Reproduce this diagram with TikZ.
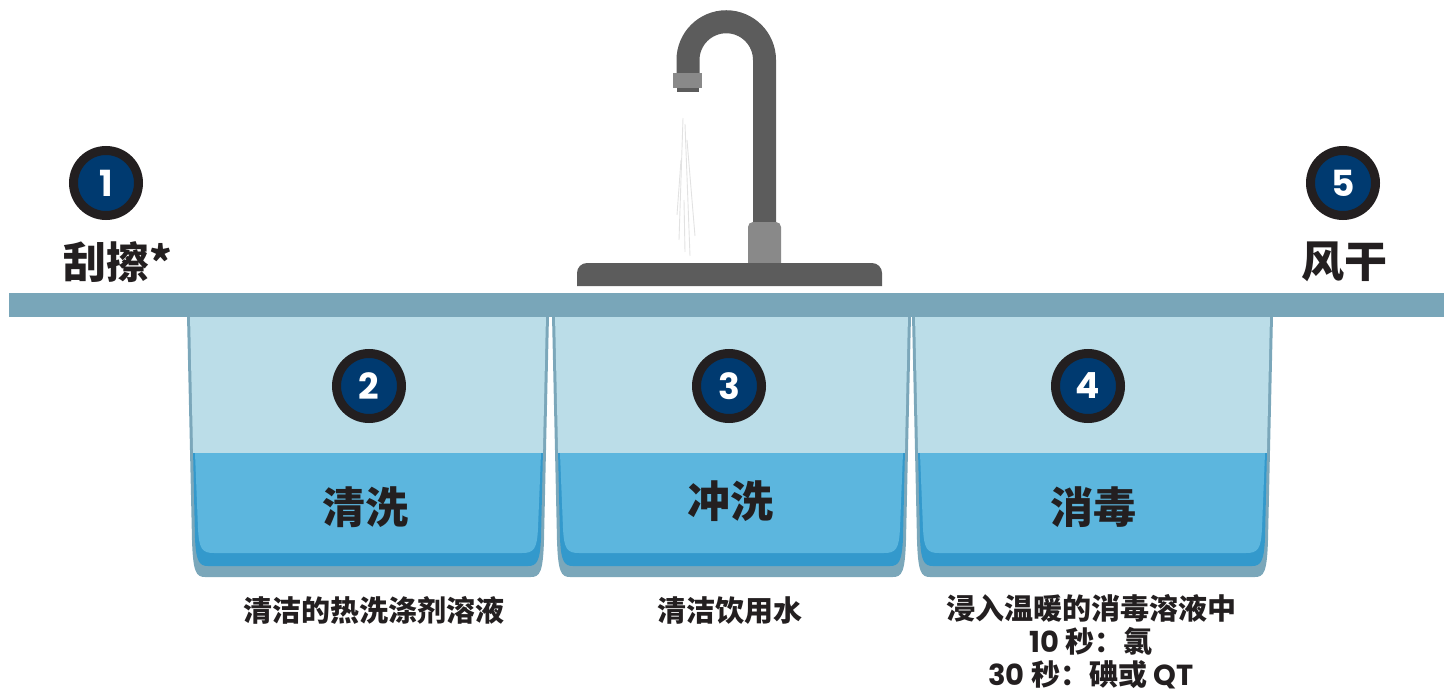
\documentclass[tikz,border=0pt]{standalone}
\usepackage{fontspec}
\newfontfamily\cjk{Noto Sans CJK SC}
\newfontfamily\lat{Poppins}
\definecolor{counter}{HTML}{79A6B9}
\definecolor{sinkrim}{HTML}{7BA7BA}
\definecolor{sinkin}{HTML}{BBDDE8}
\definecolor{waterdark}{HTML}{3399CC}
\definecolor{water}{HTML}{5CB6DE}
\definecolor{tapdark}{HTML}{5C5C5C}
\definecolor{taplight}{HTML}{898989}
\definecolor{ring}{HTML}{231F20}
\definecolor{navy}{HTML}{003A70}
\definecolor{ink}{HTML}{231F20}
\definecolor{stream}{HTML}{E2E2E2}

% one basin between left edge #1 and right edge #2
\newcommand\basin[2]{%
  \fill[sinkrim] (#1-1,315) -- ({#1+4},540) .. controls ({#1+5},572) and ({#1+8},577) .. ({#1+17},577)
     -- ({#2-17},577) .. controls ({#2-8},577) and ({#2-5},572) .. ({#2-4},540) -- (#2+1,315) -- cycle;
  \begin{scope}
    \clip ({#1+2},315) -- ({#1+7},538) .. controls ({#1+8},561) and ({#1+11},566) .. ({#1+20},566)
     -- ({#2-20},566) .. controls ({#2-11},566) and ({#2-8},561) .. ({#2-7},538) -- ({#2-2},315) -- cycle;
    \fill[waterdark] (#1,453) rectangle (#2,580);
    \fill[sinkin] (#1,310) rectangle (#2,453);
    \fill[water] ({#1+7},453) -- ({#1+10},528) .. controls ({#1+11},549) and ({#1+14},553) .. ({#1+26},553)
     -- ({#2-26},553) .. controls ({#2-14},553) and ({#2-11},549) .. ({#2-10},528) -- ({#2-7},453) -- cycle;
  \end{scope}
}

\tikzset{
  badge/.style={circle, fill=navy, draw=ring, line width=9pt, minimum size=65pt,
    inner sep=0pt, text=white, font=\lat\bfseries\fontsize{36}{36}\selectfont},
  bigtitle/.style={text=ink, inner sep=0pt, font=\cjk\bfseries\fontsize{43}{46}\selectfont},
  note/.style={text=ink, inner sep=0pt, anchor=base, text height=22pt, text depth=3pt,
    font=\cjk\bfseries\fontsize{29}{37}\selectfont},
}

\begin{document}
\begin{tikzpicture}[x=1pt,y=-1pt]
\useasboundingbox (0,0) rectangle (1444,698);

% basins
\basin{188}{548}
\basin{553}{910}
\basin{913}{1272}

% counter top
\fill[counter] (9,293) rectangle (1444,317);

% water stream
\begin{scope}[stream, line width=0.9pt]
  \draw (683,118) -- (679,240);
  \draw (685,124) -- (690,256);
  \draw (687,140) -- (695,236);
  \draw (684,200) -- (685,252);
  \draw (681,160) -- (677,215);
\end{scope}

% faucet
\draw[tapdark, line width=23pt] (764.5,226) -- (764.5,60)
  .. controls (764.5,38.9) and (747.4,21.75) .. (726.25,21.75)
  .. controls (705.1,21.75) and (688,38.9) .. (688,60) -- (688,76);
\fill[tapdark] (677,74) rectangle (699,92);
\fill[taplight] (673,73) rectangle (702,88);
\fill[taplight] (748,264) [rounded corners=5pt] -- (748,222) -- (781,222) [sharp corners] -- (781,264) -- cycle;
\fill[tapdark] (577,286) [rounded corners=10pt] -- (577,263) -- (882,263) [sharp corners] -- (882,286) -- cycle;

% step badges
\node[badge] (b1) at (106,183) {1};
\node[badge] (b2) at (369,386) {2};
\node[badge] (b3) at (729,386) {3};
\node[badge] (b4) at (1088,386) {4};
\node[badge] (b5) at (1343,183) {5};

% step titles
\node[bigtitle] (t1) at (118,262) {刮擦*};
\node[bigtitle] (t2) at (365,507) {清洗};
\node[bigtitle] (t3) at (730,501) {冲洗};
\node[bigtitle] (t4) at (1093,507) {消毒};
\node[bigtitle] (t5) at (1344,262) {风干};

% basin notes (placed on their baselines)
\node[note] (n2) at (374,621) {清洁的热洗涤剂溶液};
\node[note] (n3) at (730,621) {清洁饮用水};
\node[note] (n4a) at (1091,619) {浸入温暖的消毒溶液中};
\node[note] (n4b) at (1091,652) {{\lat 10} 秒：氯};
\node[note] (n4c) at (1091,685) {{\lat 30} 秒：碘或 {\lat QT}};
\end{tikzpicture}
\end{document}
